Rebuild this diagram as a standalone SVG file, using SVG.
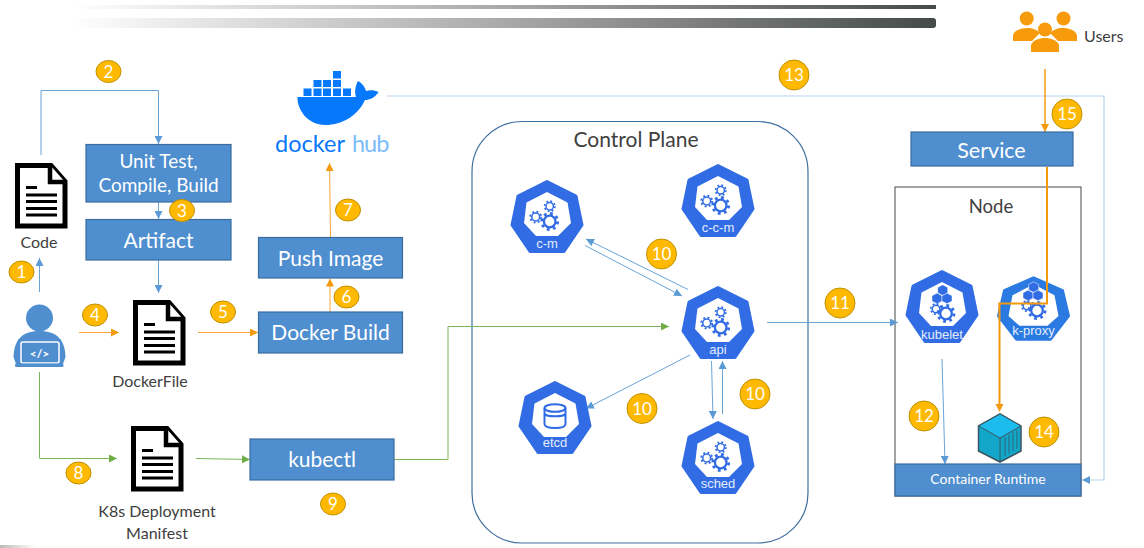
<svg xmlns="http://www.w3.org/2000/svg" width="1144" height="548" viewBox="0 0 1144 548">
<style>
text{font-family:"Lato","Open Sans","Liberation Sans",sans-serif}
.box{fill:#4f8ecf;stroke:#3a6c9f;stroke-width:1.2}
.bt{fill:#fff;text-anchor:middle}
.lab{fill:#404040;text-anchor:middle;font-size:16px}
.c{fill:none;stroke-width:1}
.bl{stroke:#6aa3d8;marker-end:url(#ab)}
.or{stroke:#f7a638;marker-end:url(#ao)}
.gr{stroke:#7cb65a;marker-end:url(#ag)}
.th{fill:none;stroke:#f39a0c;stroke-width:2}
.badge{fill:#ffb900;stroke:#bf9000;stroke-width:1}
.bn{fill:#fff;text-anchor:middle;font-size:17px}
.k{font-family:"Liberation Sans",sans-serif;font-size:13px;fill:#e3edfb;text-anchor:middle}
.doc{fill:#fff;stroke:#000;stroke-width:5;stroke-linejoin:miter}
.dl{stroke:#000;stroke-width:2.8}
.g{fill:none;stroke:#326ce5}
.dh{font-family:Lato,sans-serif;font-size:23.500px;font-weight:400}
</style>
<defs>
<linearGradient id="bar" x1="0" x2="1" y1="0" y2="0"><stop offset="0" stop-color="#fff"/><stop offset=".5" stop-color="#a8aaa8"/><stop offset="1" stop-color="#464a4a"/></linearGradient>
<linearGradient id="sm" x1="0" x2="1" y1="0" y2="0"><stop offset="0" stop-color="#bbb"/><stop offset="1" stop-color="#fff"/></linearGradient>
<marker id="ab" markerWidth="8" markerHeight="8" viewBox="0 0 8 8" refX="8" refY="4" orient="auto" markerUnits="userSpaceOnUse"><path d="M0 0L8 4L0 8Z" fill="#5b9bd5"/></marker>
<marker id="ao" markerWidth="8" markerHeight="8" viewBox="0 0 8 8" refX="8" refY="4" orient="auto" markerUnits="userSpaceOnUse"><path d="M0 0L8 4L0 8Z" fill="#f39a0c"/></marker>
<marker id="ag" markerWidth="8" markerHeight="8" viewBox="0 0 8 8" refX="8" refY="4" orient="auto" markerUnits="userSpaceOnUse"><path d="M0 0L8 4L0 8Z" fill="#70ad47"/></marker>
<g id="hep"><path d="M0-35.500L29-21L35 8L17 34.500H-17L-35 8L-29-21Z" fill="#326ce5" stroke="#326ce5" stroke-width="3" stroke-linejoin="round"/><path d="M0-25L20.500-14.500L24 6L11 19H-11L-23 6L-20.500-14.500Z" fill="#fff"/></g>
<g id="gear"><circle r="5.800" class="g" stroke-width="2.300"/><circle r="8" class="g" stroke-width="2.800" stroke-dasharray="2.800 3.500"/></g>
<g id="gears"><use href="#gear" x="2.700" y="4.500"/><use href="#gear" transform="translate(-11.300 0) scale(.68)"/><use href="#gear" transform="translate(2.700 -10.700) scale(.64)"/></g>
<path id="cube" d="M0-5.200L5-2.500V2.900L0 5.400L-5 2.900V-2.500Z" fill="#326ce5" stroke="#fff" stroke-width=".5"/>
<g id="kicons"><use href="#cube" x=".7" y="-17"/><use href="#cube" x="-5" y="-8.700"/><use href="#cube" x="5" y="-8.700"/><use href="#gear" transform="translate(-6 2) scale(.65)"/><use href="#gear" x="4" y="6.500"/></g>
<g id="docicon"><path class="doc" d="M2.500 2.500H36L50 18.500V63H2.500Z"/><path d="M35 2V19H50" fill="#fff" stroke="#000" stroke-width="4.500"/><path class="dl" d="M11 24.500H22M11 32H42M11 38.500H42M11 45.500H42M11 52H42"/></g>
</defs>

<g id="bars">
<rect x="70" y="5" width="866" height="4" fill="url(#bar)"/>
<rect x="70" y="18" width="866" height="10" rx="3" fill="url(#bar)"/>
<rect x="0" y="545" width="36" height="3" fill="url(#sm)"/>
</g>

<g id="control-plane"><rect x="472" y="121.500" width="336" height="421.500" rx="50" fill="#fff" stroke="#3f6f9f" stroke-width="1.200"/><text x="636" y="147" class="lab" style="font-size:21px">Control Plane</text></g>
<g id="node"><rect x="895" y="187" width="186" height="309" fill="#fff" stroke="#666" stroke-width="1.200"/><text x="991" y="213" class="lab" style="font-size:18.500px">Node</text></g>

<g id="connectors">
<path class="c bl" d="M39.500 292V258"/>
<path class="c bl" d="M41 155V90.500H158.500V144"/>
<path class="c bl" d="M158.500 202V219"/>
<path class="c bl" d="M158.500 260V293"/>
<path class="c or" d="M79 332.500H119"/>
<path class="c or" d="M198 332.500H258"/>
<path class="c or" d="M330 312V278.500"/>
<path class="c or" d="M330.500 237L329.500 163"/>
<path class="c gr" d="M39.500 372V458.500H117"/>
<path class="c gr" d="M196 458.500L250 459.500"/>
<path class="c gr" d="M394 459.500H448V326.500H669"/>
<path class="c bl" d="M688 289.500L586 239"/>
<path class="c bl" d="M585 245.500L682 296"/>
<path class="c bl" d="M690 355L586 408.500"/>
<path class="c bl" d="M711.500 361L713 419"/>
<path class="c bl" d="M722.500 414V361"/>
<path class="c bl" d="M767 322.500H898"/>
<path class="c bl" d="M942 359L945 464"/>
<path class="c bl" style="stroke:#b9d2ec;stroke-width:1.200" d="M387 96H1104V480H1082"/>
<path class="th" style="stroke-width:1.500;marker-end:url(#ao)" d="M1045 69V132"/>
<path class="th" d="M1047 167V303.500H999.500V404"/>
<path d="M995.500 404H1003.500L999.500 412Z" fill="#f39a0c"/>
</g>

<g id="code"><use href="#docicon" x="15" y="163"/><text x="39" y="248" class="lab">Code</text></g>
<g id="dockerfile"><use href="#docicon" x="133" y="300"/><text x="150" y="387" class="lab">DockerFile</text></g>
<g id="k8s-manifest"><use href="#docicon" x="131" y="426"/><text x="157" y="517" class="lab">K8s Deployment</text><text x="157" y="539" class="lab">Manifest</text></g>

<g id="developer"><circle cx="39.500" cy="318" r="13.500" fill="#4f8ecf"/><path d="M13.500 357C14 340 22 331 39.500 331C57 331 65 340 65.500 357L63 364H16Z" fill="#4f8ecf"/><rect x="21" y="342" width="38" height="21" rx="2" fill="#4f8ecf" stroke="#fff" stroke-width="1.500"/><rect x="15" y="363.500" width="48.500" height="3.500" rx="1.500" fill="#4f8ecf"/><text x="39.500" y="358" class="bt" style="font-size:12px;font-weight:700">&lt;/&gt;</text></g>

<g id="unit-test"><rect class="box" x="86" y="144.500" width="145" height="57.500"/><text x="158.500" y="168" class="bt" font-size="19">Unit Test,</text><text x="158.500" y="192" class="bt" font-size="19">Compile, Build</text></g>
<g id="artifact"><rect class="box" x="86" y="219.500" width="145" height="40.500"/><text x="158.500" y="248" class="bt" font-size="21">Artifact</text></g>
<g id="push-image"><rect class="box" x="258.500" y="237.500" width="144" height="40.500"/><text x="330.500" y="266" class="bt" font-size="21">Push Image</text></g>
<g id="docker-build"><rect class="box" x="258.500" y="312" width="144" height="41"/><text x="330.500" y="340" class="bt" font-size="21">Docker Build</text></g>
<g id="kubectl"><rect class="box" x="250" y="439" width="144" height="41"/><text x="322" y="467" class="bt" font-size="21">kubectl</text></g>
<g id="service"><rect class="box" x="911" y="132" width="162" height="34"/><text x="991.500" y="158" class="bt" font-size="21.500">Service</text></g>
<g id="container-runtime"><rect class="box" x="895" y="464" width="186" height="32"/><text x="988" y="484" class="bt" font-size="14">Container Runtime</text></g>

<g id="docker-hub">
<g fill="#0678fb"><path d="M297.500 97H356C354 90 356 85 358 81C362 83 365 87 366 91C370 90 374 90 378.500 92C375 98 369 100 365 100C358 115 343 125 325 125C308 125 297 110 297.500 97Z"/>
<path d="M303.500 88.500h8v7.500h-8zM313.500 88.500h8v7.500h-8zM323 88.500h8v7.500h-8zM333 88.500h8v7.500h-8zM343 88.500h8v7.500h-8zM313.500 80h8v7h-8zM323 80h8v7h-8zM333 80h8v7h-8zM333 71h8v7.500h-8z"/></g>
<text x="275" y="152" class="dh" fill="#0678fb">docker</text>
<text x="352" y="152" class="dh" fill="#7dbcfd" letter-spacing="-1">hub</text>
</g>

<g id="users" fill="#f79a0c">
<circle cx="1026.700" cy="18.500" r="7"/><circle cx="1063.500" cy="18.500" r="7"/>
<path d="M1013 41V35C1015 30 1021 28 1027 28C1033 28 1037 30 1040 33L1032 41Z"/>
<path d="M1077 41V35C1075 30 1069 28 1063 28C1057 28 1053 30 1050 33L1058 41Z"/>
<circle cx="1045" cy="29.500" r="7"/>
<path d="M1031 52V45C1033 40 1039 38 1045 38C1051 38 1057 40 1059 45V52Z"/>
<text x="1084" y="42" font-size="16" fill="#404040">Users</text>
</g>

<g id="c-m"><use href="#hep" x="547" y="217"/><use href="#gears" x="547" y="217"/><text x="547" y="248" class="k">c-m</text></g>
<g id="c-c-m"><use href="#hep" x="718" y="201"/><use href="#gears" x="718" y="201"/><text x="718" y="232" class="k">c-c-m</text></g>
<g id="api"><use href="#hep" x="718" y="323"/><use href="#gears" x="718" y="323"/><text x="718" y="354" class="k">api</text></g>
<g id="sched"><use href="#hep" x="718" y="458"/><use href="#gears" x="718" y="458"/><text x="718" y="488" class="k">sched</text></g>
<g id="etcd"><use href="#hep" x="555" y="418"/><g transform="translate(555 418)" class="g" stroke-width="2"><ellipse cx="0" cy="-10" rx="10.500" ry="3.800"/><path d="M-10.500-10V6C-10.500 9 -5 10 0 10S10.500 9 10.500 6V-10M-10.500 -4C-8-1 8-1 10.500 -4"/></g><text x="555" y="447" class="k">etcd</text></g>
<g id="kubelet"><use href="#hep" x="942" y="307"/><use href="#kicons" x="942" y="307"/><text x="942" y="339" class="k">kubelet</text></g>
<g id="k-proxy"><g transform="translate(1033.500 309) scale(1 .88)"><path d="M0-35.500L29-21L35 8L17 34.500H-17L-35 8L-29-21Z" fill="#2a7ae2" stroke="#2a7ae2" stroke-width="3" stroke-linejoin="round"/><path d="M0-28L21-15.500L25 8L14 19H-14L-25 8L-21-15.500Z" fill="#fff"/></g><use href="#kicons" x="1033" y="304"/><text x="1033.500" y="335" class="k">k-proxy</text></g>
<path class="th" d="M1047 260V303.500H999.500V320"/>

<g id="container">
<path d="M1000 414L1021 426V451L1000 462L978.500 451V426Z" fill="#12a7c9" stroke="#3c5560" stroke-width="1.500" stroke-linejoin="round"/>
<path d="M1000 414L1021 426L1000 438L978.500 426Z" fill="#1cbcee" stroke="#3c5560" stroke-width="1"/>
<path d="M1000 438V462" stroke="#3c5560" fill="none"/>
<path d="M1005 437V456M1009 434.500V453.500M1013 432V451M1017 430V449" stroke="#2a6f85" stroke-width="1.200"/>
</g>

<g id="badges">
<g><ellipse class="badge" cx="21.500" cy="272" rx="12.500" ry="11"/><text class="bn" x="21.500" y="278">1</text></g>
<g><ellipse class="badge" cx="108.500" cy="71.500" rx="12.500" ry="11"/><text class="bn" x="108.500" y="77.500">2</text></g>
<g><ellipse class="badge" cx="182" cy="210.500" rx="12.500" ry="11"/><text class="bn" x="182" y="216.500">3</text></g>
<g><ellipse class="badge" cx="95" cy="315" rx="12.500" ry="11"/><text class="bn" x="95" y="321">4</text></g>
<g><ellipse class="badge" cx="223" cy="312" rx="12.500" ry="11"/><text class="bn" x="223" y="318">5</text></g>
<g><ellipse class="badge" cx="346.500" cy="297" rx="12.500" ry="11"/><text class="bn" x="346.500" y="303">6</text></g>
<g><ellipse class="badge" cx="348" cy="210" rx="12.500" ry="11"/><text class="bn" x="348" y="216">7</text></g>
<g><ellipse class="badge" cx="78.500" cy="473" rx="12.500" ry="11"/><text class="bn" x="78.500" y="479">8</text></g>
<g><ellipse class="badge" cx="333" cy="504" rx="12.500" ry="11"/><text class="bn" x="333" y="510">9</text></g>
<g><circle class="badge" cx="661.500" cy="254" r="15"/><text class="bn" x="661.500" y="260">10</text></g>
<g><circle class="badge" cx="642" cy="408.500" r="15"/><text class="bn" x="642" y="414.500">10</text></g>
<g><circle class="badge" cx="755" cy="394" r="15"/><text class="bn" x="755" y="400">10</text></g>
<g><circle class="badge" cx="840" cy="303" r="15"/><text class="bn" x="840" y="309">11</text></g>
<g><circle class="badge" cx="924" cy="416" r="15"/><text class="bn" x="924" y="422">12</text></g>
<g><circle class="badge" cx="794" cy="75" r="15"/><text class="bn" x="794" y="81">13</text></g>
<g><circle class="badge" cx="1044" cy="432" r="15"/><text class="bn" x="1044" y="438">14</text></g>
<g><circle class="badge" cx="1067" cy="114" r="15"/><text class="bn" x="1067" y="120">15</text></g>
</g>
</svg>
